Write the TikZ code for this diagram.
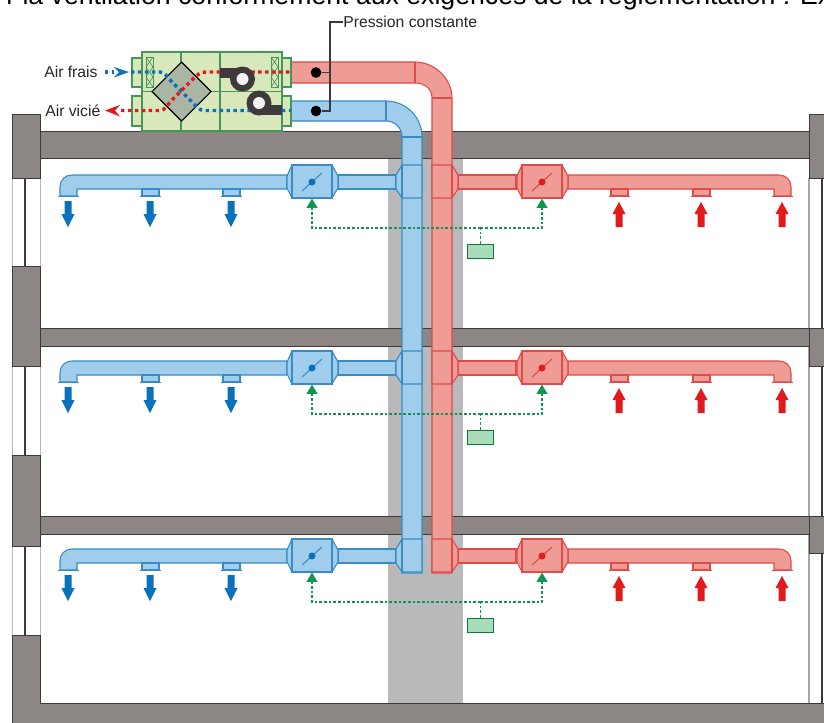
\documentclass[tikz,border=0pt]{standalone}
\usepackage{fontspec}
\setmainfont{Liberation Sans}
\usetikzlibrary{arrows.meta}
\definecolor{wallgray}{RGB}{140,135,132}
\definecolor{walledge}{RGB}{62,58,57}
\definecolor{shaftgray}{RGB}{185,185,187}
\definecolor{fillblue}{RGB}{160,205,235}
\definecolor{edgeblue}{RGB}{55,140,196}
\definecolor{fillred}{RGB}{239,155,150}
\definecolor{edgered}{RGB}{222,75,72}
\definecolor{airblue}{RGB}{10,114,187}
\definecolor{airred}{RGB}{226,26,28}
\definecolor{unitfill}{RGB}{217,232,187}
\definecolor{unitedge}{RGB}{70,150,90}
\definecolor{corefill}{RGB}{170,182,165}
\definecolor{ctrlgreen}{RGB}{15,150,80}
\definecolor{ctrlfill}{RGB}{170,220,185}
\definecolor{fandark}{RGB}{62,58,60}
\tikzset{
  wall/.style={fill=wallgray, draw=walledge, line width=0.7pt},
  duct/.style={fill=fill#1, draw=edge#1, line width=0.8pt},
  seam/.style={draw=edge#1, line width=0.8pt},
  unit/.style={fill=unitfill, draw=unitedge, line width=0.9pt},
  damper/.style={duct=#1, minimum width=30pt, minimum height=24.75pt, inner sep=0pt},
  ctrlbox/.style={fill=ctrlfill, draw=ctrlgreen!80!black, line width=0.7pt, minimum width=20pt, minimum height=10.5pt, inner sep=0pt},
  ctrlwire/.style={ctrlgreen, line width=1.3pt, dash pattern=on 2pt off 1.5pt},
  ctrlarrow/.style={ctrlwire, -{Triangle[length=7pt, width=8pt, sep=0pt]}},
  airdots/.style={line width=2.6pt, dash pattern=on 2.6pt off 2.6pt},
  pdot/.style={circle, fill=black, inner sep=0pt, minimum size=8pt},
  label/.style={anchor=west, inner sep=0pt, font=\fontsize{11.8}{14}\selectfont, text=black!85},
}
\begin{document}
\begin{tikzpicture}[x=0.75pt, y=-0.75pt]
  \useasboundingbox (0,0) rectangle (824,722);
  \fill[white] (0,0) rectangle (824,722);
  \begin{scope}
    \clip (0,0) rectangle (824,722);
    \node[anchor=base west, inner sep=0pt, font=\fontsize{20}{24}\selectfont] (titre) at (6,4) {r la ventilation conformément aux exigences de la réglementation : Ex};
  \end{scope}

  \fill[shaftgray] (388,158) rectangle (463,703);

  \foreach \y/\h in {178/266, 366/455, 546/635} {
    \draw[walledge!35, fill=white, line width=0.5pt] (12,\y) rectangle (40,\h);
    \draw[walledge, line width=0.9pt] (25,\y) -- (25,\h);
  }
  \draw[black!35, line width=0.9pt] (809,178) -- (809,703);
  \draw[walledge, line width=0.9pt] (822,178) -- (822,703);
  \draw[wall] (40,131) rectangle (809,158);
  \draw[wall] (40,328) rectangle (809,346);
  \draw[wall] (40,516) rectangle (809,534);
  \draw[wall] (12,114) rectangle (40,178);
  \draw[wall] (12,266) rectangle (40,366);
  \draw[wall] (12,455) rectangle (40,546);
  \draw[wall] (809,114) rectangle (830,178);
  \draw[wall] (809,328) rectangle (830,366);
  \draw[wall] (809,516) rectangle (830,553);
  \draw[wall] (12,740) -- (12,635) -- (40,635) -- (40,703) -- (830,703) -- (830,740) -- cycle;

  \draw[duct=blue] (291,101) -- (386,101) .. controls (406,101) and (422,117) .. (422,137) -- (422,573) -- (402,573) -- (402,137) .. controls (402,128) and (395,121) .. (386,121) -- (291,121) -- cycle;
  \draw[seam=blue] (386,101) -- (386,121);
  \draw[seam=blue] (402,137) -- (422,137);
  \draw[duct=red] (291,62) -- (415,62) .. controls (435,62) and (452,79) .. (452,98) -- (452,573) -- (432,573) -- (432,98) .. controls (432,89) and (425,83) .. (415,83) -- (291,83) -- cycle;
  \draw[seam=red] (415,62) -- (415,83);
  \draw[seam=red] (432,98) -- (452,98);

  \foreach \f/\d in {0/0, 1/186, 2/374} {
    \draw[duct=blue] (287,175+\d) -- (72,175+\d) .. controls (65,175+\d) and (60,180+\d) .. (60,187+\d) -- (60,196+\d) -- (77,196+\d) -- (77,189+\d) -- (287,189+\d) -- cycle;
    \draw[duct=red] (568,175+\d) -- (779,175+\d) .. controls (786,175+\d) and (791,180+\d) .. (791,187+\d) -- (791,196+\d) -- (774,196+\d) -- (774,189+\d) -- (568,189+\d) -- cycle;
    \draw[duct=blue] (338,175+\d) rectangle (396,189+\d);
    \draw[duct=red] (458,175+\d) rectangle (516,189+\d);
    \draw[duct=blue] (396,175+\d) -- (402,165+\d) -- (422,165+\d) -- (422,198+\d) -- (402,198+\d) -- (396,189+\d) -- cycle;
    \draw[seam=blue] (402,165+\d) -- (402,198+\d);
    \draw[duct=red] (432,165+\d) -- (452,165+\d) -- (458,175+\d) -- (458,189+\d) -- (452,198+\d) -- (432,198+\d) -- cycle;
    \draw[seam=red] (452,165+\d) -- (452,198+\d);
    \foreach \x in {142, 223} {
      \draw[duct=blue] (\x,189+\d) rectangle (\x+17,196+\d);
    }
    \foreach \x in {611, 693} {
      \draw[duct=red] (\x,189+\d) rectangle (\x+17,196+\d);
    }
    \foreach \x in {58, 140, 221} {
      \draw[seam=blue] (\x,196.5+\d) -- (\x+21,196.5+\d);
    }
    \foreach \x in {609, 691, 772} {
      \draw[seam=red] (\x,196.5+\d) -- (\x+21,196.5+\d);
    }
    \foreach \x in {68, 150, 231} {
      \fill[airblue] (\x-3.5,201+\d) -- (\x+3.5,201+\d) -- (\x+3.5,214+\d) -- (\x+6.5,214+\d) -- (\x,227+\d) -- (\x-6.5,214+\d) -- (\x-3.5,214+\d) -- cycle;
    }
    \foreach \x in {619, 701, 782} {
      \fill[airred] (\x-3.5,227+\d) -- (\x+3.5,227+\d) -- (\x+3.5,214+\d) -- (\x+6.5,214+\d) -- (\x,202+\d) -- (\x-6.5,214+\d) -- (\x-3.5,214+\d) -- cycle;
    }
    \foreach \x/\c in {312/blue, 542/red} {
      \draw[duct=\c] (\x-25,176+\d) -- (\x-20,165+\d) -- (\x+20,165+\d) -- (\x+26,176+\d) -- (\x+26,188+\d) -- (\x+20,198+\d) -- (\x-20,198+\d) -- (\x-25,188+\d) -- cycle;
      \node[damper=\c] (damp\c\f) at (\x,181.5+\d) {};
      \draw[seam=\c] (\x-10,191+\d) -- (\x+10,173+\d);
      \fill[air\c] (\x,182+\d) circle (3.5);
    }
    \node[ctrlbox] (ctrl\f) at (480.5,251+\d) {};
    \coordinate (junction\f) at (480.5,228+\d);
    \draw[ctrlwire] (ctrl\f.north) -- (junction\f);
    \draw[ctrlarrow] (junction\f) -| (dampblue\f.south);
    \draw[ctrlarrow] (junction\f) -| (dampred\f.south);
  }

  \draw[unit] (132,58) rectangle (142,87);
  \draw[unit] (132,96) rectangle (142,126);
  \draw[unit] (282,58) rectangle (291,87);
  \draw[unit] (282,96) rectangle (291,126);
  \draw[unit] (142,52) rectangle (282,131);
  \draw[unitedge, line width=0.8pt] (142,91.5) -- (282,91.5);
  \draw[unitedge, line width=0.8pt] (181,52) -- (181,131);
  \draw[unitedge, line width=0.8pt] (220,52) -- (220,131);
  \foreach \x in {146, 271} {
    \draw[unitedge, line width=0.5pt] (\x,57) rectangle (\x+7,87);
    \foreach \y in {57, 67, 77} {
      \draw[unitedge, line width=0.5pt] (\x,\y) -- (\x+7,\y+10);
      \draw[unitedge, line width=0.5pt] (\x+7,\y) -- (\x,\y+10);
    }
  }
  \draw[fill=corefill, draw=black, line width=0.8pt] (181.5,62) -- (211,91.5) -- (181.5,121) -- (152,91.5) -- cycle;

  \node[label] (airfrais) at (44,72) {Air frais};
  \node[label] (airvicie) at (45,110.5) {Air vicié};
  \draw[airblue, airdots] (105,72) -- (114,72);
  \draw[airblue, airdots] (131,72) -- (160,72) .. controls (165,72) and (167,77) .. (172,82) -- (193,103) .. controls (197,107) and (199,110.5) .. (205,110.5) -- (291,110.5);
  \draw[airred, airdots] (121,110.5) -- (160,110.5) .. controls (165,110.5) and (167,105) .. (172,100) -- (192,80) .. controls (197,75) and (200,72) .. (206,72) -- (291,72);
  \fill[airblue] (114,67) -- (129,72) -- (114,77.5) -- (119,72) -- cycle;
  \fill[airred] (120,105) -- (105,110.5) -- (120,116.5) -- (115,110.5) -- cycle;

  \fill[fandark] (220,68) rectangle (242,78);
  \fill[fandark] (242.5,79) circle (12.5);
  \fill[white!90!gray] (242.5,79) circle (6);
  \fill[fandark] (259,105) rectangle (282,115);
  \fill[fandark] (259,103) circle (12.5);
  \fill[white!90!gray] (259,103) circle (6);

  \node[label] (pression) at (343,22) {Pression constante};
  \node[pdot] (dotred) at (316,72.5) {};
  \node[pdot] (dotblue) at (316,111) {};
  \coordinate (leadertop) at (330,22);
  \coordinate (leaderred) at (330,72.5);
  \coordinate (leaderblue) at (330,111);
  \draw[walledge, line width=0.8pt] (pression.west) -- (leadertop) -- (leaderblue) -- (dotblue);
  \draw[walledge, line width=0.8pt] (dotred) -- (leaderred);
\end{tikzpicture}
\end{document}
